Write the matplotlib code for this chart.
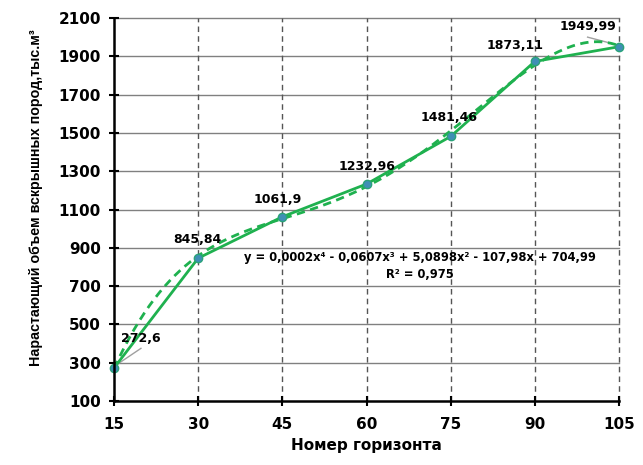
import numpy as np
import matplotlib
matplotlib.use("Agg")
import matplotlib.pyplot as plt

plt.rcParams['font.family'] = ['DejaVu Sans']

x = [15, 30, 45, 60, 75, 90, 105]
y = [272.6, 845.84, 1061.9, 1232.96, 1481.46, 1873.11, 1949.99]
labels = ["272,6", "845,84", "1061,9", "1232,96", "1481,46", "1873,11", "1949,99"]
label_pos = [(19.8, 424), (29.8, 941), (44.2, 1150), (60.0, 1322), (74.8, 1578), (86.4, 1954), (99.4, 2053)]
yticks = [100, 300, 500, 700, 900, 1100, 1300, 1500, 1700, 1900, 2100]
equation = "y = 0,0002x⁴ - 0,0607x³ + 5,0898x² - 107,98x + 704,99"
r2 = "R² = 0,975"

green = '#1fb14f'
fig = plt.figure(figsize=(6.43, 4.65), dpi=100)
ax = fig.add_axes([0.1773, 0.1376, 0.7854, 0.8237])

for t in yticks[1:]:
    ax.axhline(t, color='#808080', lw=1, zorder=1, clip_on=False)
for t in x[1:]:
    ax.axvline(t, color='#555555', lw=1, ls=(0, (4, 3)), zorder=1, clip_on=False)

coef = np.polyfit(x, y, 4)
xs = np.linspace(15, 105, 300)
ax.plot(xs, np.polyval(coef, xs), color=green, lw=2, ls=(0, (3, 2)), zorder=3)
ax.plot(x, y, color=green, lw=2, marker='o', ms=6, mfc='#3f8fb5', mec='#2aa37a', zorder=4, clip_on=False)

for (lx, ly), lab in zip(label_pos, labels):
    ax.text(lx, ly, lab, ha='center', va='center', fontsize=9, fontweight='bold', zorder=5)

ax.plot([15.5, 19.8], [290, 375], color='#a0a0a0', lw=1, zorder=2)
ax.plot([104.6, 99.4], [1960, 2000], color='#a0a0a0', lw=1, zorder=2)

ax.text(69.5, 852, equation, ha='center', va='center', fontsize=8.3, fontweight='bold', zorder=5)
ax.text(69.5, 763, r2, ha='center', va='center', fontsize=8.3, fontweight='bold', zorder=5)

ax.set_xlim(15, 105)
ax.set_ylim(100, 2100)
ax.set_xticks(x)
ax.set_yticks(yticks)
ax.tick_params(axis='both', direction='inout', length=7, width=1.5, labelsize=11)
ax.tick_params(axis='x', pad=8)
ax.tick_params(axis='y', pad=6)
for lab in ax.get_xticklabels() + ax.get_yticklabels():
    lab.set_fontweight('bold')
for s in ['top', 'right']:
    ax.spines[s].set_visible(False)
for s in ['left', 'bottom']:
    ax.spines[s].set_linewidth(1.8)
    ax.spines[s].set_color('black')
    ax.spines[s].set_zorder(6)

ax.set_xlabel("Номер горизонта", fontsize=11, fontweight='bold', labelpad=4)
ax.set_ylabel("Нарастающий объем вскрышных пород,тыс.м³", fontsize=10.3, fontweight='bold',
              family=['Liberation Sans', 'DejaVu Sans'])
ax.yaxis.set_label_coords(-0.14, 0.53)

fig.savefig("out.png", dpi=100)
